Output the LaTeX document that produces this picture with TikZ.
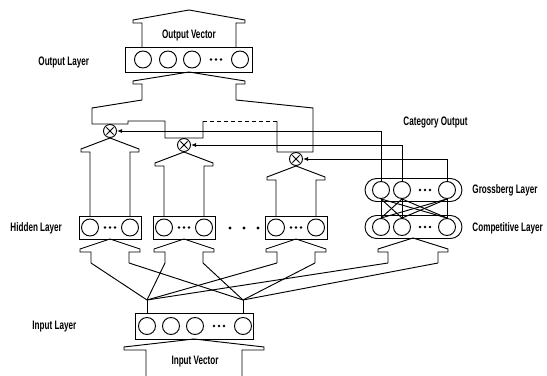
\documentclass[tikz,border=0pt]{standalone}
\usepackage{fontspec}
\newfontfamily\lblfont[FakeStretch=0.66]{Liberation Sans}
\usetikzlibrary{arrows.meta,shapes.misc}

\def\px{0.03cm}

% fat arrow pointing up: centre x, tip y, head base y, head half width, shaft half width, shaft bottom y
\newcommand{\fatup}[6]{%
  \draw (#1-#5,#6) -- (#1-#5,#3) -- (#1-#4,#3) -- (#1-#4,#3-3) -- (#1,#2)
        -- (#1+#4,#3-3) -- (#1+#4,#3) -- (#1+#5,#3) -- (#1+#5,#6);}

\begin{document}
\begin{tikzpicture}[x=0.03cm, y=-0.03cm, line width=0.8pt,
  neuron/.style={circle, draw, inner sep=0pt, minimum size=17*\px},
  layer/.style={draw, inner sep=0pt},
  capsule/.style={rounded rectangle, draw, inner sep=0pt, minimum width=97*\px, minimum height=23*\px},
  mult/.style={circle, draw, inner sep=0pt, minimum size=13*\px},
  cross/.style={line width=0.7pt, shorten <=1.6pt, shorten >=1.6pt},
  lyrtxt/.style={font=\lblfont\bfseries\fontsize{10.5}{12}\selectfont, inner sep=0pt},
  catline/.style={line width=0.7pt, -{Latex[length=4.5pt,width=3.5pt]}}
]
\useasboundingbox (0,0) rectangle (547,376);

% ==========================================================
% Output layer
% ==========================================================
\node[layer, minimum width=127*\px, minimum height=25*\px] (out) at (188.5,59.5) {};
\foreach \n/\x in {1/143,2/168,3/192,4/240}
  \node[neuron] (o\n) at (\x,59.5) {};
\foreach \d in {-5,0,5} \fill (216+\d,59.5) circle (1.2pt);

\fatup{189}{10}{23}{56}{47}{47}
\node[lyrtxt] (outvec) at (189,35) {Output Vector};
\node[lyrtxt, anchor=west] (outlbl) at (38,62) {Output Layer};

% ==========================================================
% Multipliers
% ==========================================================
\foreach \n/\x/\y in {1/110/131,2/184/145,3/296/159}{
  \node[mult] (m\n) at (\x,\y) {};
  \draw[cross] (m\n.north west) -- (m\n.south east);
  \draw[cross] (m\n.north east) -- (m\n.south west);
}

% collecting arrow into the output layer
\draw (142,100) -- (142,84) -- (133,84) -- (133,81) -- (189,72)
      -- (245,81) -- (245,84) -- (236,84) -- (236,100);
\draw (142,100) -- (92,108) |- (m1.north) -| (128,121) -- (165,121)
      |- (m2.north) -| (203,121);
\draw[dashed] (203,121) -- (277,121);
\draw (277,121) |- (m3.north) -| (313,108) -- (236,100);

% ==========================================================
% Hidden layers
% ==========================================================
\foreach \i/\x/\t in {1/110/137,2/184/151,3/296/165}{
  \node[layer, minimum width=62*\px, minimum height=23*\px] (hid\i) at (\x,227.5) {};
  \node[neuron] (h\i a) at (\x-20,227.5) {};
  \node[neuron] (h\i b) at (\x+20,227.5) {};
  \foreach \d in {-5,0,5} \fill (\x+\d,227.5) circle (1.2pt);
  \fatup{\x}{\t+1}{\t+15}{29}{20}{216}
  \fatup{\x}{239}{252}{30}{19}{263}
  \coordinate (h\i l) at (\x-19,263);
  \coordinate (h\i r) at (\x+19,263);
}
\foreach \x in {230,244,258} \fill (\x,228) circle (1.3pt);
\node[lyrtxt, anchor=west] (hidlbl) at (10,228) {Hidden Layer};

% ==========================================================
% Grossberg and competitive layers
% ==========================================================
\node[capsule] (gross) at (413.5,190) {};
\node[capsule] (comp) at (413.5,227) {};
\foreach \n/\x in {1/381,2/402,3/447}{
  \node[neuron] (g\n) at (\x,190) {};
  \node[neuron] (c\n) at (\x,227) {};
}
\foreach \d in {-5,0,5}{
  \fill (425+\d,190) circle (1.2pt);
  \fill (425+\d,227) circle (1.2pt);
}
\foreach \i in {1,2,3}
  \foreach \j in {1,2,3}
    \draw (g\i.south) -- (c\j.north);

\fatup{413}{238}{252}{35}{25}{263}
\coordinate (cl) at (388,263);
\coordinate (cr) at (438,263);

% category output to the multipliers
\draw[catline] (g1.north) |- (m1.east);
\draw[catline] (g2.north) |- (m2.east);
\draw[catline] (g3.north) |- (m3.east);

\node[lyrtxt, anchor=west] (catlbl) at (403,123) {Category Output};
\node[lyrtxt, anchor=west] (grolbl) at (472,190) {Grossberg Layer};
\node[lyrtxt, anchor=west] (comlbl) at (472,228) {Competitive Layer};

% ==========================================================
% Input layer
% ==========================================================
\node[layer, minimum width=118*\px, minimum height=26*\px] (inp) at (194,326) {};
\foreach \n/\x in {1/147,2/171,3/195,4/243}
  \node[neuron] (i\n) at (\x,326) {};
\foreach \d in {-5,0,5} \fill (219+\d,326) circle (1.2pt);

\coordinate (ja) at (147,300);
\coordinate (jb) at (243,300);
\draw (i1 |- inp.north) -- (ja);
\draw (i4 |- inp.north) -- (jb);
\foreach \t in {h1l,h2l,h3l,cl} \draw (ja) -- (\t);
\foreach \t in {h1r,h2r,h3r,cr} \draw (jb) -- (\t);

\fatup{194}{339}{350}{70}{48}{376}
\node[lyrtxt] (invec) at (195,362) {Input Vector};
\node[lyrtxt, anchor=west] (inlbl) at (32,327) {Input Layer};

\end{tikzpicture}
\end{document}
